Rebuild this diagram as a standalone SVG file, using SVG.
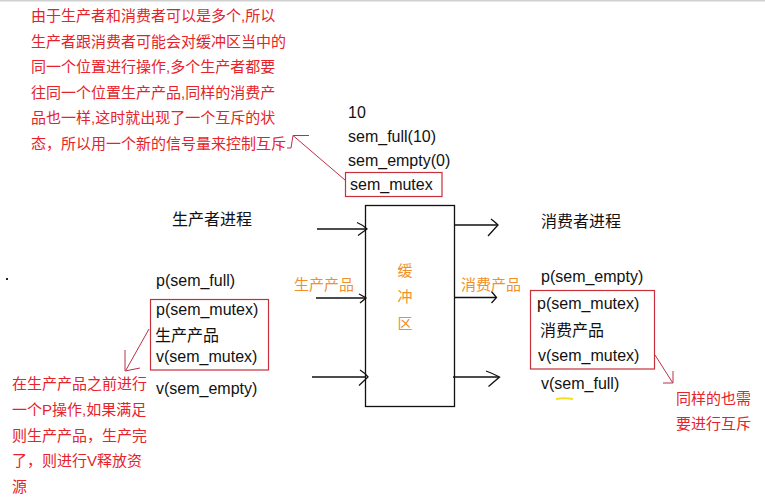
<svg xmlns="http://www.w3.org/2000/svg" width="765" height="501" viewBox="0 0 765 501">
<style>
.t{font-family:"Liberation Sans","Noto Sans CJK SC",sans-serif;font-size:16px;fill:#111}
.r{font-family:"Liberation Sans","Noto Sans CJK SC",sans-serif;font-size:15px;fill:#e8222a}
.o{font-family:"Liberation Sans","Noto Sans CJK SC",sans-serif;font-size:15px;fill:#f0902a}
.ln{stroke:#111;stroke-width:1.3;fill:none}
.rb{stroke:#c8303c;stroke-width:1.2;fill:none}
.ra{stroke:#b8304a;stroke-width:1;fill:none}
</style>
<rect width="765" height="501" fill="#fff"/>
<rect x="0" y="0" width="765" height="1.5" fill="#d0d0d0"/>
<rect x="6" y="278" width="2" height="2" fill="#222"/>

<g id="note-top">
<text class="r" x="31" y="21">由于生产者和消费者可以是多个,所以</text>
<text class="r" x="31" y="47">生产者跟消费者可能会对缓冲区当中的</text>
<text class="r" x="31" y="72">同一个位置进行操作,多个生产者都要</text>
<text class="r" x="31" y="98">往同一个位置生产产品,同样的消费产</text>
<text class="r" x="31" y="123">品也一样,这时就出现了一个互斥的状</text>
<text class="r" x="31" y="149">态，所以用一个新的信号量来控制互斥</text>
</g>

<g id="semaphores">
<text class="t" x="348" y="118">10</text>
<text class="t" x="348" y="142">sem_full(10)</text>
<text class="t" x="348" y="166">sem_empty(0)</text>
<rect class="rb" x="345.5" y="172.5" width="96.5" height="24"/>
<text class="t" x="350" y="190">sem_mutex</text>
</g>

<g id="producer">
<text class="t" x="172" y="225">生产者进程</text>
<text class="t" x="156" y="286">p(sem_full)</text>
<rect class="rb" x="150.5" y="299.5" width="118" height="70.5"/>
<text class="t" x="156" y="315">p(sem_mutex)</text>
<text class="t" x="155" y="341">生产产品</text>
<text class="t" x="156" y="362">v(sem_mutex)</text>
<text class="t" x="156" y="394">v(sem_empty)</text>
</g>

<g id="buffer">
<rect x="365.5" y="205.5" width="89" height="201" fill="none" stroke="#111" stroke-width="1.3"/>
<text class="o" x="405" y="276" text-anchor="middle">缓</text>
<text class="o" x="405" y="302" text-anchor="middle">冲</text>
<text class="o" x="405" y="329" text-anchor="middle">区</text>
</g>

<g id="consumer">
<text class="t" x="541" y="227">消费者进程</text>
<text class="t" x="541" y="282">p(sem_empty)</text>
<rect class="rb" x="530.5" y="290.5" width="124" height="78.5"/>
<text class="t" x="537" y="309">p(sem_mutex)</text>
<text class="t" x="540" y="336">消费产品</text>
<text class="t" x="538" y="361">v(sem_mutex)</text>
<text class="t" x="541" y="389">v(sem_full)</text>
<path d="M556 399 Q564 397.5 573 399" stroke="#f2e020" stroke-width="2" fill="none"/>
</g>

<g id="note-left">
<text class="r" x="12" y="389">在生产产品之前进行</text>
<text class="r" x="12" y="415">一个P操作,如果满足</text>
<text class="r" x="12" y="441">则生产产品，生产完</text>
<text class="r" x="12" y="466">了，则进行V释放资</text>
<text class="r" x="12" y="492">源</text>
</g>

<g id="note-right">
<text class="r" x="676" y="404">同样的也需</text>
<text class="r" x="676" y="429">要进行互斥</text>
</g>

<g id="connectors">
<g class="ln">
<line x1="317" y1="229" x2="365" y2="229"/>
<path d="M357 222.5 Q363 225 367 229 L358 235.5"/>
<line x1="316" y1="298" x2="365" y2="298"/>
<path d="M359 294 Q363 296 366 298 L360 303"/>
<line x1="312" y1="377" x2="365" y2="377"/>
<path d="M360 370 Q365 373 368 377 L359 385.5"/>
<line x1="454" y1="225" x2="498" y2="225"/>
<path d="M491 219 Q495 222 498 225 L488 236"/>
<line x1="454" y1="297.5" x2="496" y2="297.5"/>
<path d="M491.5 291.5 Q494 294.5 496.5 297.5 L491.5 303"/>
<line x1="453" y1="377" x2="499" y2="377"/>
<path d="M486 371 Q493 373.5 499.5 377 L488.5 386.5"/>
</g>
<text class="o" x="294" y="290">生产产品</text>
<text class="o" x="461" y="290">消费产品</text>
<g class="ra">
<line x1="345" y1="180" x2="293" y2="135.5"/>
<polyline points="309,135.5 293,135.5 291,148 287,148"/>
<line x1="149" y1="329" x2="126" y2="370"/>
<polyline points="125,350 125,371 140,368"/>
<line x1="655" y1="355" x2="672.5" y2="382.5"/>
<polyline points="673,371 673,383 663,383"/>
</g>
</g>
</svg>
